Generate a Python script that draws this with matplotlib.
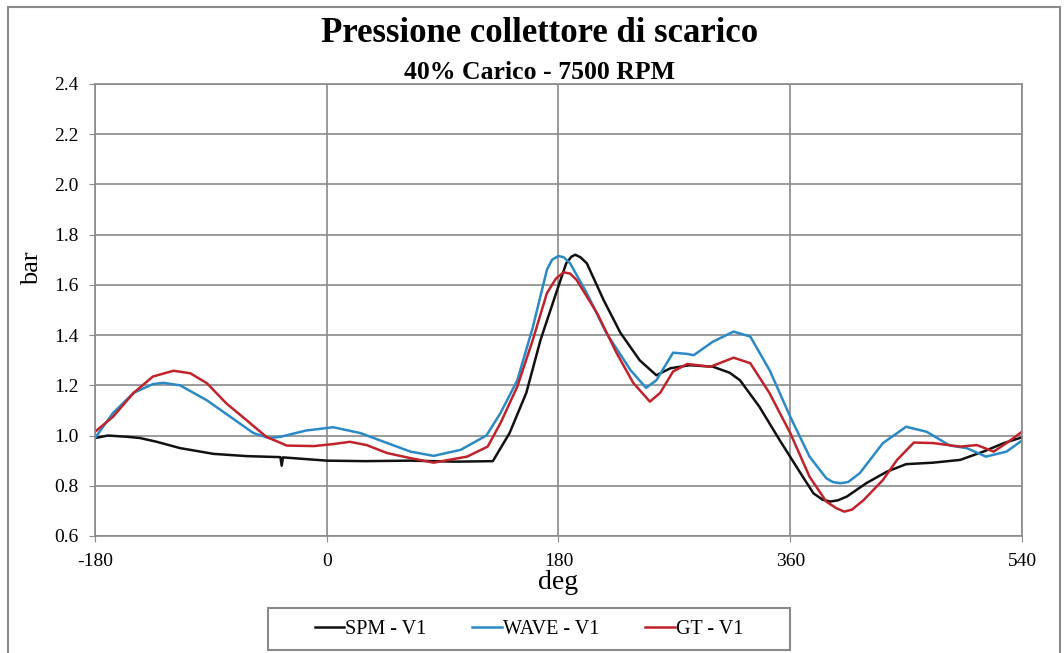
import matplotlib.pyplot as plt
from matplotlib.patches import Rectangle

plt.rcParams['font.family'] = ['Liberation Serif', 'DejaVu Serif']
plt.rcParams['axes.unicode_minus'] = False

# crank angle [deg] and pressure [bar]
spm_deg = [-180, -170, -155, -145, -132, -114, -88, -62, -36, -35, -34, 0, 30, 65, 100, 129,
           142, 155, 166, 179, 186, 190, 193, 197, 202, 215, 228, 243, 256, 267, 282, 300, 313, 321,
           336, 352, 368, 378, 385, 391, 397, 404, 419, 435, 450, 471, 492, 510, 526, 540]
spm_bar = [0.99, 1.00, 0.995, 0.99, 0.975, 0.95, 0.927, 0.918, 0.914, 0.88, 0.913, 0.90, 0.898, 0.90, 0.896, 0.898,
           1.01, 1.17, 1.38, 1.58, 1.686, 1.712, 1.72, 1.71, 1.686, 1.54, 1.41, 1.30, 1.24, 1.268, 1.28, 1.274, 1.25, 1.22,
           1.115, 0.98, 0.85, 0.77, 0.745, 0.737, 0.742, 0.757, 0.81, 0.856, 0.886, 0.892, 0.903, 0.936, 0.97, 0.993]

wave_deg = [-180, -166, -150, -135, -127, -114, -93, -75, -57, -45, -36, -16, 5, 26, 47, 65, 83, 104,
            124, 135, 148, 160, 171, 175, 180, 184, 189, 202, 217, 236, 248, 256, 269, 280, 285, 300, 316, 329,
            344, 360, 375, 388, 393, 399, 405, 414, 432, 450, 466, 484, 497, 512, 528, 540]
wave_bar = [0.99, 1.09, 1.17, 1.205, 1.21, 1.20, 1.14, 1.075, 1.01, 0.99, 0.995, 1.02, 1.033, 1.01, 0.97, 0.936, 0.919, 0.943,
            1.00, 1.09, 1.22, 1.43, 1.66, 1.70, 1.715, 1.71, 1.686, 1.567, 1.41, 1.26, 1.19, 1.22, 1.33, 1.325, 1.32, 1.374, 1.414, 1.394,
            1.26, 1.075, 0.916, 0.83, 0.815, 0.81, 0.815, 0.85, 0.97, 1.035, 1.015, 0.96, 0.95, 0.916, 0.936, 0.98]

gt_deg = [-180, -166, -150, -135, -119, -106, -93, -78, -62, -47, -31, -10, 5, 18, 31, 47, 65, 83, 109,
          125, 135, 148, 160, 171, 178, 184, 189, 194, 210, 225, 238, 251, 259, 269, 280, 298, 316, 329,
          344, 360, 375, 388, 396, 402, 408, 417, 432, 443, 456, 471, 492, 505, 518, 528, 540]
gt_bar = [1.015, 1.075, 1.17, 1.235, 1.258, 1.248, 1.208, 1.128, 1.06, 0.995, 0.96, 0.958, 0.966, 0.975, 0.962, 0.93, 0.91, 0.892, 0.916,
          0.956, 1.05, 1.195, 1.38, 1.567, 1.625, 1.65, 1.645, 1.62, 1.487, 1.33, 1.21, 1.135, 1.17, 1.255, 1.285, 1.274, 1.31, 1.288,
          1.168, 1.01, 0.836, 0.737, 0.71, 0.697, 0.705, 0.743, 0.823, 0.903, 0.972, 0.97, 0.956, 0.962, 0.936, 0.97, 1.015]

x_ticks = [-180, 0, 180, 360, 540]
y_ticks = [0.6, 0.8, 1.0, 1.2, 1.4, 1.6, 1.8, 2.0, 2.2, 2.4]

fig = plt.figure(figsize=(10.64, 6.53), dpi=100)
ax = fig.add_axes([0.0893, 0.1792, 0.8712, 0.6922])

ax.plot(spm_deg, spm_bar, color='#111111', lw=1.8, label='SPM - V1')
ax.plot(wave_deg, wave_bar, color='#2b8ac6', lw=1.8, label='WAVE - V1')
ax.plot(gt_deg, gt_bar, color='#c0232b', lw=1.8, label='GT - V1')

ax.set_xlim(-180, 540)
ax.set_ylim(0.6, 2.4)
ax.set_xticks(x_ticks)
ax.set_yticks(y_ticks)
ax.set_yticklabels([f'{v:.1f}' for v in y_ticks])
ax.grid(True, color='#8a8a8a', lw=1.2)
ax.set_axisbelow(True)
for s in ax.spines.values():
    s.set_color('#8a8a8a')
    s.set_linewidth(1.2)
ax.tick_params(direction='out', length=4, color='#8a8a8a', labelsize=14, pad=8)

ax.set_xlabel('deg', fontsize=20, labelpad=0)
ax.set_ylabel('bar', fontsize=19)
ax.yaxis.set_label_coords(-0.056, 0.593)

fig.text(0.507, 0.948, 'Pressione collettore di scarico', ha='center', va='center',
         fontsize=25, fontweight='bold')
fig.text(0.507, 0.889, '40% Carico - 7500 RPM', ha='center', va='center',
         fontsize=18.5, fontweight='bold')

# legend entries without frame, box drawn separately (wider than the entries)
fig.legend(loc='center', bbox_to_anchor=(0.497, 0.036), ncol=3, fontsize=14.5,
           frameon=False, handlelength=1.45,
           handletextpad=0.05, columnspacing=2.3, borderpad=0.5)
fig.patches.append(Rectangle((268 / 1064, 3 / 653), 522 / 1064, 42 / 653, transform=fig.transFigure,
                             fill=False, edgecolor='#8a8a8a', lw=1.5))

fig.patches.append(Rectangle((0.0075, -0.02), 0.989, 1.009, transform=fig.transFigure,
                             fill=False, edgecolor='#8a8a8a', lw=1.5))

fig.savefig('out.png', dpi=100)
